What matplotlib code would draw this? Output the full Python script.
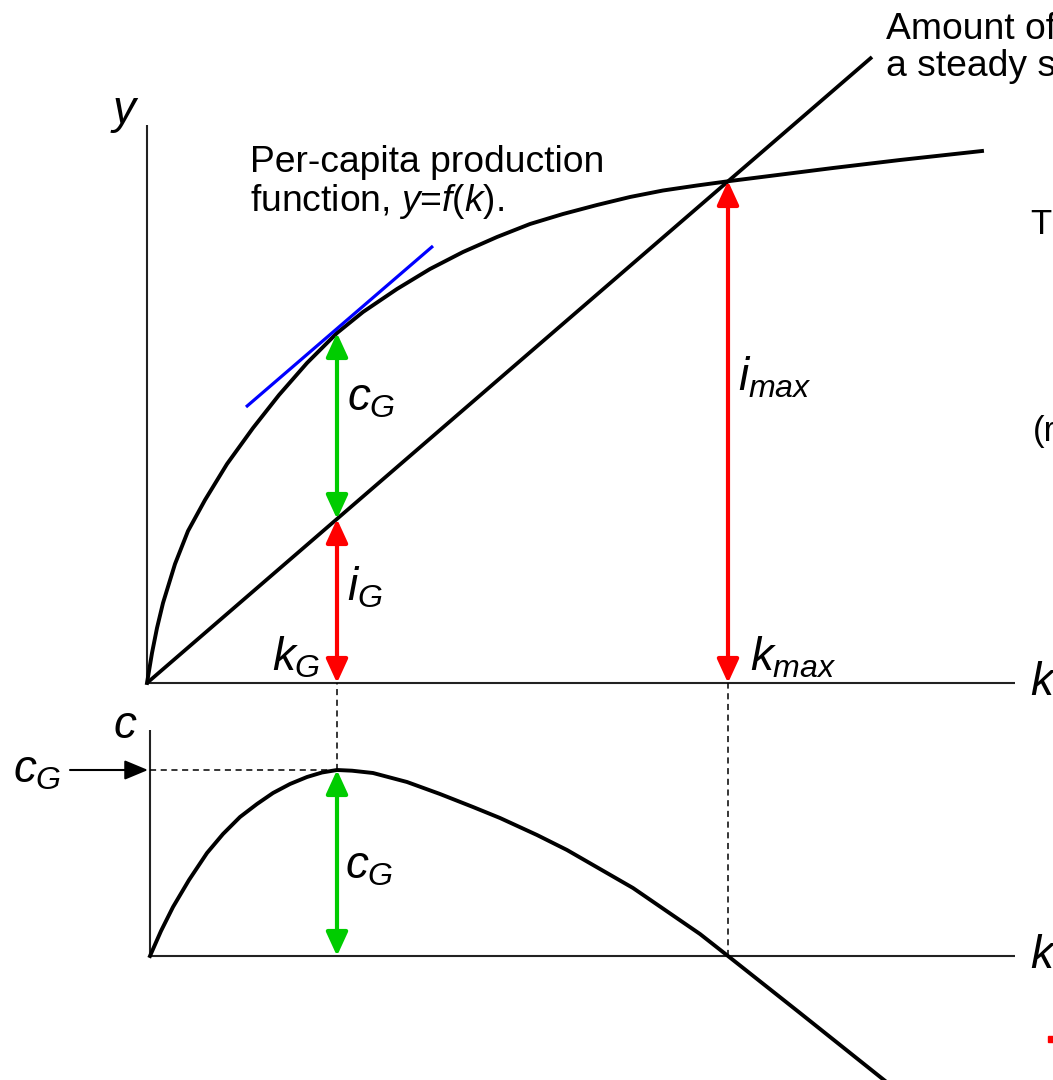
import numpy as np
import matplotlib.pyplot as plt

plt.rcParams['font.family'] = ['Liberation Sans', 'DejaVu Sans']
plt.rcParams['mathtext.fontset'] = 'custom'
plt.rcParams['mathtext.it'] = 'Liberation Sans:italic'
plt.rcParams['mathtext.rm'] = 'Liberation Sans'

# production function y = f(k)
k_f = [0, 0.05, 0.10, 0.16, 0.28, 0.41, 0.58, 0.80, 1.06, 1.32, 1.60, 1.90,
       2.16, 2.50, 2.83, 3.16, 3.50, 3.83, 4.16, 4.50, 4.83, 5.16, 5.50, 5.83,
       6.86, 7.53, 8.35]
y_f = [0, 0.30, 0.55, 0.80, 1.19, 1.52, 1.83, 2.19, 2.55, 2.88, 3.20, 3.50,
       3.71, 3.94, 4.14, 4.31, 4.46, 4.59, 4.69, 4.78, 4.86, 4.925, 4.975, 5.02,
       5.15, 5.23, 5.32]

# steady state investment line
k_line = [0, 7.25]
y_line = [0, 6.26]

# tangent at golden rule
k_tan = [0.99, 2.86]
y_tan = [2.76, 4.37]

# consumption c = f(k) - investment
k_c = [0.03, 0.14, 0.26, 0.42, 0.60, 0.76, 0.93, 1.10, 1.26, 1.43, 1.60, 1.75,
       1.90, 2.05, 2.26, 2.60, 2.93, 3.26, 3.53, 3.90, 4.20, 4.86, 5.53, 5.81,
       6.53, 7.42]
c_c = [0, 0.25, 0.49, 0.76, 1.03, 1.22, 1.39, 1.52, 1.63, 1.72, 1.79, 1.835,
       1.86, 1.853, 1.83, 1.74, 1.62, 1.49, 1.38, 1.21, 1.06, 0.68, 0.22, 0,
       -0.57, -1.28]

k_G, y_G, i_G, c_G = 1.90, 3.50, 1.64, 1.86
k_max, y_max = 5.81, 5.02

fig = plt.figure(figsize=(10.53, 10.8), dpi=100)
top = fig.add_axes([0, 0, 1, 1])
top.set_xlim(-1.47, 9.06)
top.set_ylim(-3.97, 6.83)
top.axis('off')
bot = fig.add_axes([0, 0, 1, 1])
bot.set_xlim(-1.47, 9.06)
bot.set_ylim(-1.24, 9.56)
bot.axis('off')
bot.patch.set_alpha(0)

ax_kw = dict(color='#222222', lw=1.5, solid_capstyle='butt')
# top axes
top.plot([0, 0], [0, 5.58], **ax_kw)
top.plot([0, 8.68], [0, 0], **ax_kw)
# bottom axes
bot.plot([0.03, 0.03], [0, 2.26], **ax_kw)
bot.plot([0.03, 8.68], [0, 0], **ax_kw)

top.plot(k_f, y_f, color='black', lw=2.8, solid_joinstyle='round')
top.plot(k_line, y_line, color='black', lw=2.7, solid_capstyle='butt')
top.plot(k_tan, y_tan, color='#0000ff', lw=2.3, solid_capstyle='butt')
bot.plot(k_c, c_c, color='black', lw=2.8, solid_joinstyle='round')

# dashed guides
dash = dict(color='black', lw=1.1, ls=(0, (4, 3)))
bot.plot([k_G, k_G], [c_G, 2.73], **dash)
bot.plot([k_max, k_max], [0, 2.73], **dash)
bot.plot([0.03, k_G], [c_G, c_G], **dash)

def darrow(ax, x, y0, y1, color):
    ax.annotate('', xy=(x, y1), xytext=(x, y0),
                arrowprops=dict(arrowstyle='<|-|>,head_length=1.2,head_width=0.55',
                                mutation_scale=12, color=color, lw=3,
                                shrinkA=0, shrinkB=0))

red, green = '#ff0000', '#00cc00'
darrow(top, k_G, 0, i_G, red)
darrow(top, k_G, i_G, y_G, green)
darrow(top, k_max, 0, y_max, red)
darrow(bot, k_G, 0, c_G, green)

bot.annotate('', xy=(0.01, c_G), xytext=(-0.77, c_G),
             arrowprops=dict(arrowstyle='-|>,head_length=1.2,head_width=0.5',
                             mutation_scale=12, color='black', lw=1.5,
                             shrinkA=0, shrinkB=0))

big = 33
top.text(-0.22, 5.70, '$y$', fontsize=big, ha='center', va='center')
top.text(8.83, 0, '$k$', fontsize=big, ha='left', va='center')
bot.text(8.83, 0, '$k$', fontsize=big, ha='left', va='center')
bot.text(-0.22, 2.30, '$c$', fontsize=big, ha='center', va='center')
bot.text(-1.34, c_G, '$c_G$', fontsize=big, ha='left', va='center')
top.text(2.00, 2.85, '$c_G$', fontsize=big, ha='left', va='center')
top.text(2.00, 0.95, '$i_G$', fontsize=big, ha='left', va='center')
top.text(1.25, 0.25, '$k_G$', fontsize=big, ha='left', va='center')
top.text(5.91, 3.05, '$i_{max}$', fontsize=big, ha='left', va='center')
top.text(6.03, 0.25, '$k_{max}$', fontsize=big, ha='left', va='center')
bot.text(1.98, 0.90, '$c_G$', fontsize=big, ha='left', va='center')

top.text(1.03, 5.00, 'Per-capita production\nfunction, $y$=$f$($k$).',
         fontsize=26.8, ha='left', va='center', linespacing=1.05)
top.text(7.39, 6.35, 'Amount of\na steady s', fontsize=26.8, ha='left',
         va='center', linespacing=1.05)
top.text(8.83, 4.58, 'T', fontsize=25, ha='left', va='center')
top.text(8.86, 2.51, '(r', fontsize=25, ha='left', va='center')
bot.plot([9.04], [-0.83], marker='s', ms=4, color='#ff0000', ls='none')

fig.savefig('out.png', dpi=100)
